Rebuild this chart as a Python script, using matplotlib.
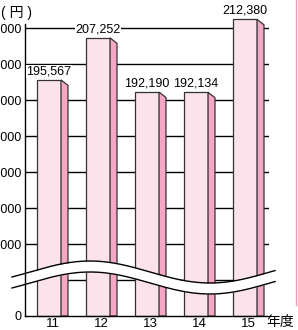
import numpy as np
import matplotlib
matplotlib.use("Agg")
import matplotlib.pyplot as plt

years = ["11", "12", "13", "14", "15"]
amounts = [195567, 207252, 192190, 192134, 212380]
grid_values = [140000, 150000, 160000, 170000, 180000, 190000, 200000, 210000]
label_values = [150000, 160000, 170000, 180000, 190000, 200000, 210000]
base = 130000  # value at the broken axis bottom

plt.rcParams['font.family'] = ['Liberation Sans', 'Noto Sans CJK JP']

W, H = 298, 330
fig = plt.figure(figsize=(W / 100, H / 100), dpi=100)
ax = fig.add_axes([25 / W, 14 / H, 244 / W, 306 / H])
ax.set_xlim(-0.561, 4.418)
ax.set_ylim(0, 85000)

# gridlines
for g in grid_values:
    ax.axhline(g - base, color='black', lw=1.0, zorder=1)

front_c = '#fce3eb'
side_c = '#f5a7c5'
edge_c = '#333333'
fw, sw, drop = 0.49, 0.142, 1500
x = np.arange(len(years))
h = np.array(amounts) - base
for i, hv in zip(x, h):
    left = i - 0.316
    ax.bar(left, hv, width=fw, align='edge', color=front_c,
           edgecolor=edge_c, lw=0.9, zorder=2, clip_on=False)
    ax.fill([left + fw, left + fw, left + fw + sw, left + fw + sw],
            [0, hv, hv - drop, 0], facecolor=side_c, edgecolor=edge_c,
            lw=0.9, zorder=2, clip_on=False)

for i, hv, v in zip(x, h, amounts):
    ax.text(i - 0.071, hv + 700, f"{v:,}", ha='center', va='bottom',
            fontsize=9, zorder=5,
            bbox=dict(facecolor='white', edgecolor='none', pad=0.3))

# axis break wave
px = np.linspace(12, 275, 300)
wx = (px - 52.5) / 49
upper = 12222 + 3056 * np.cos(2 * np.pi * (px - 90) / 240)
lower = upper - 3056
ax.fill_between(wx, lower, upper, color='white', zorder=3, clip_on=False, lw=0)
ax.plot(wx, upper, color='black', lw=1.0, zorder=4, clip_on=False)
ax.plot(wx, lower, color='black', lw=1.0, zorder=4, clip_on=False)

ax.set_yticks([0] + [v - base for v in label_values])
ax.set_yticklabels(["0"] + [f"{v:,}" for v in label_values], fontsize=9)
ax.set_xticks(x)
ax.set_xticklabels(years, fontsize=9.5)
ax.tick_params(length=0)
ax.tick_params(axis='y', pad=2.5)
ax.tick_params(axis='x', pad=1.5)

for s in ['top', 'right']:
    ax.spines[s].set_visible(False)
ax.spines['left'].set_bounds(0, 81200)
ax.spines['left'].set_zorder(4)
ax.spines['bottom'].set_zorder(4)
ax.spines['left'].set_linewidth(1.0)
ax.spines['bottom'].set_linewidth(1.0)

fig.text(1 / W, 1 - 17 / H, "( 円 )", fontsize=10)
fig.text(266 / W, 1 - 329 / H, "年度", fontsize=10, family=['Noto Sans CJK JP'],
         va='bottom')
fig.add_artist(plt.Line2D([295.5 / W, 295.5 / W], [1 - 305 / H, 1],
                          color='#e99bb9', lw=1.0))

fig.savefig("out.png", dpi=100)
